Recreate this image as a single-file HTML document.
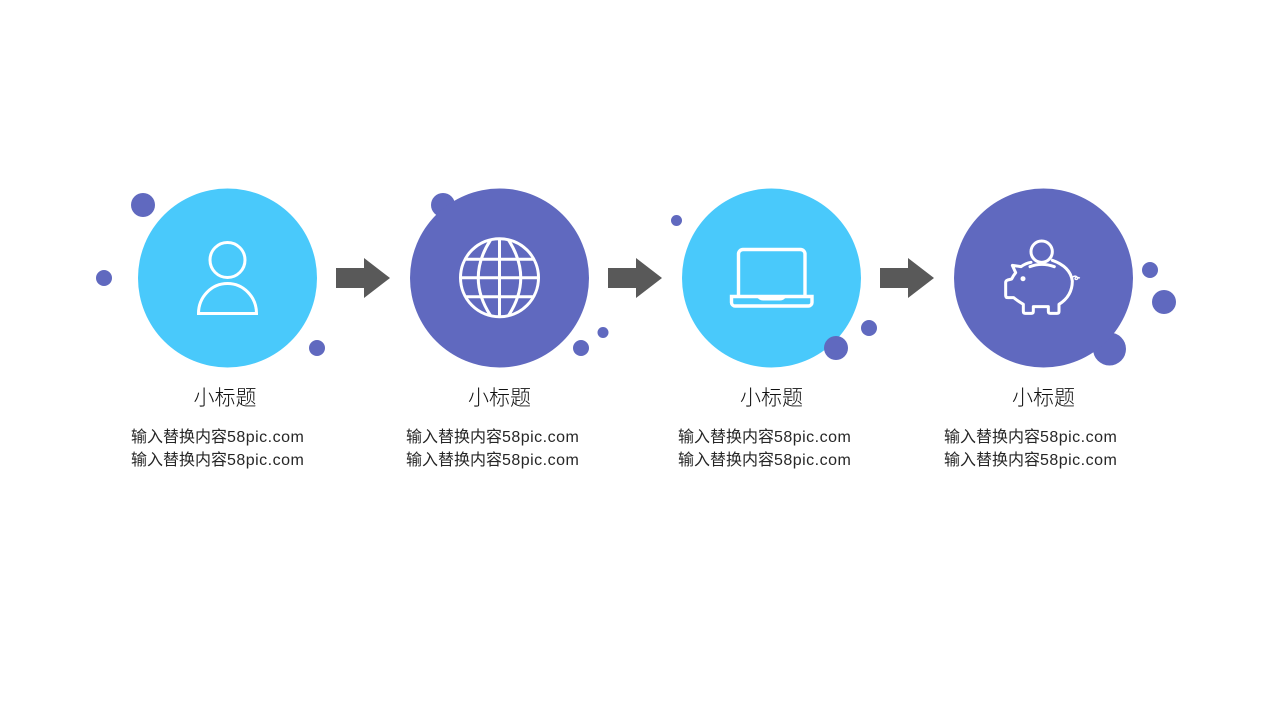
<!DOCTYPE html>
<html lang="zh">
<head>
<meta charset="utf-8">
<title>流程图</title>
<style>
html,body{margin:0;padding:0;background:#fff}
#s{position:relative;width:1280px;height:720px;overflow:hidden;background:#fff;font-family:"Liberation Sans","Noto Sans CJK SC",sans-serif;color:#262626}
svg{position:absolute;left:0;top:0}
.t{position:absolute;top:385px;width:120px;text-align:center;font-size:21px;line-height:28px;font-weight:300;white-space:nowrap;color:#111}
.b{position:absolute;white-space:nowrap;font-size:16px;line-height:23px;top:426px}
.b span{letter-spacing:.48px}
</style>
</head>
<body>
<div id="s">
<svg width="1280" height="720" viewBox="0 0 1280 720">
  <g fill="#6069bf">
    <circle cx="143" cy="205" r="12"/><circle cx="104" cy="278" r="8"/><circle cx="317" cy="348" r="8"/>
    <circle cx="443" cy="205" r="12"/><circle cx="581" cy="348" r="8"/><circle cx="603" cy="332.5" r="5.5"/>
    <circle cx="676.5" cy="220.5" r="5.5"/><circle cx="869" cy="328" r="8"/>
    <circle cx="1150" cy="270" r="8"/><circle cx="1164" cy="302" r="12"/><circle cx="1109.5" cy="349" r="16.5"/>
    <circle cx="499.5" cy="278" r="89.5"/><circle cx="1043.5" cy="278" r="89.5"/>
  </g>
  <circle cx="227.5" cy="278" r="89.5" fill="#49c9fb"/>
  <circle cx="771.5" cy="278" r="89.5" fill="#49c9fb"/>
  <circle cx="836" cy="348" r="12" fill="#6069bf"/>
  <g fill="#595959">
    <path d="M336 268H364V258L390 278L364 298V288H336Z"/>
    <path d="M608 268H636V258L662 278L636 298V288H608Z"/>
    <path d="M880 268H908V258L934 278L908 298V288H880Z"/>
  </g>
  <g fill="none" stroke="#fff" stroke-width="3">
    <circle cx="227.5" cy="260" r="17.5"/>
    <path d="M198.5 313.5A29 30 0 0 1 256.5 313.5Z"/>

    <circle cx="499.5" cy="277.7" r="39"/>
    <path d="M490.5 240Q466 278 490.5 315.5M508.5 240Q533 278 508.5 315.5"/>
    <path d="M499.5 239V316.5M461 277.7H538M465 259.3H534M465 296.7H534"/>

    <path stroke-width="3.4" d="M738.5 295V254A4.5 4.5 0 0 1 743 249.5H800.5A4.5 4.5 0 0 1 805 254V295"/>
    <path stroke-width="3.4" d="M731.5 296.5H812V302.5A3.5 3.5 0 0 1 808.5 306H735A3.5 3.5 0 0 1 731.5 302.5Z"/>
  </g>
  <path d="M756 296H787Q784 300.500 780 300.500H763Q759 300.500 756 296Z" fill="#fff"/>
  <g fill="none" stroke="#fff" stroke-width="9" stroke-linejoin="round" stroke-linecap="round" transform="translate(995 236) scale(.33333)">
    <circle cx="140" cy="47" r="32"/>
    <path d="M108 79Q92 82 78 92L52 88L62 110Q54 120 50 129L38 132Q32 134 32 140V178Q32 185 39 185H56Q64 192 85 205V226Q85 232 91 232H109Q115 232 115 226V212H160V226Q160 232 166 232H186Q192 232 192 226V205Q232 180 232 135Q226 92 172 73"/>
    <path d="M105 92Q140 78 178 92"/>
  </g>
  <g fill="none" stroke="#fff" stroke-width="1.4">
    <path d="M1072 277.500Q1075 275 1077 277Q1079 279 1076 279.500Q1074 279 1076 277L1080 278"/>
  </g>
  <circle cx="1023" cy="278.700" r="2.500" fill="#fff"/>
</svg>

<div class="t" style="left:165px">小标题</div>
<div class="t" style="left:439.5px">小标题</div>
<div class="t" style="left:711.5px">小标题</div>
<div class="t" style="left:983.5px">小标题</div>

<div class="b" style="left:131px">输入替换内容<span>58pic.com</span><br>输入替换内容<span>58pic.com</span></div>
<div class="b" style="left:406px">输入替换内容<span>58pic.com</span><br>输入替换内容<span>58pic.com</span></div>
<div class="b" style="left:678px">输入替换内容<span>58pic.com</span><br>输入替换内容<span>58pic.com</span></div>
<div class="b" style="left:944px">输入替换内容<span>58pic.com</span><br>输入替换内容<span>58pic.com</span></div>
</div>
</body>
</html>
